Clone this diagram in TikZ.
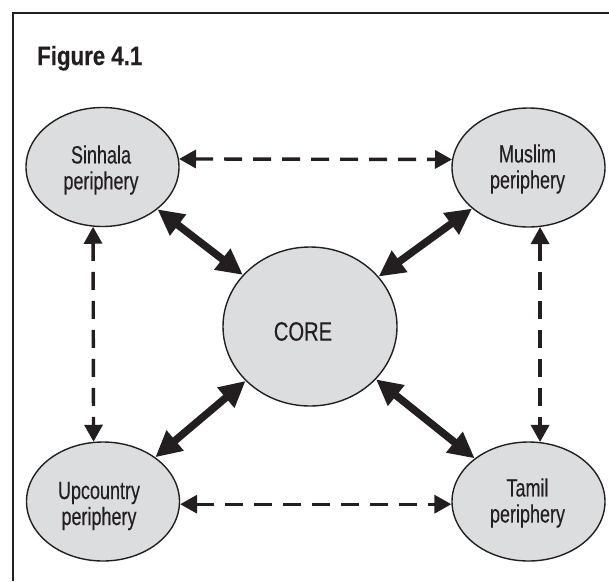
\documentclass[tikz,border=0pt]{standalone}
\usepackage{fontspec}
\setmainfont[FakeStretch=0.72,FakeBold=0.25]{Liberation Sans}
\newfontfamily\corefont[FakeStretch=0.76,FakeBold=0.25]{Liberation Sans}
\newfontfamily\figfont[FakeStretch=0.84,FakeBold=0.3]{Liberation Sans}
\usetikzlibrary{shapes.geometric,arrows.meta}
\definecolor{ellfill}{HTML}{DCDDDF}
\definecolor{ink}{HTML}{231F20}
\tikzset{
  peri/.style={ellipse,draw=ink,line width=1.4pt,fill=ellfill,inner sep=0pt,
    minimum width=153pt,minimum height=119pt},
  peritext/.style={align=center,text=ink,inner sep=0pt,
    font=\fontsize{25}{26}\selectfont},
  corebox/.style={ellipse,draw=ink,line width=1.4pt,fill=ellfill,inner sep=0pt,
    minimum width=174pt,minimum height=159pt},
  coretext/.style={text=ink,inner sep=0pt,
    font=\corefont\fontsize{26.5}{30}\selectfont},
  dasharrow/.style={draw=ink,line width=3.4pt,dash pattern=on 18pt off 11pt,
    {Triangle[length=17pt,width=18pt]}-{Triangle[length=17pt,width=18pt]}},
  thickarrow/.style={draw=ink,line width=7.5pt,
    {Triangle[length=26pt,width=25pt]}-{Triangle[length=26pt,width=25pt]}},
  frameline/.style={draw=ink,line width=2.2pt},
  figtitle/.style={anchor=base west,inner sep=0pt,text=ink,
    font=\figfont\bfseries\fontsize{26.5}{30}\selectfont}
}
\begin{document}
\begin{tikzpicture}[x=1pt,y=-1pt]
\useasboundingbox (0,0) rectangle (609,581);
\draw[frameline] (13,581) -- (13,13) -- (609,13);
\node[figtitle] (title) at (37,65) {Figure 4.1};
\node[peri] (sin) at (102.5,167) {};
\node[peri] (mus) at (528.5,167.5) {};
\node[peri] (upc) at (103,501.5) {};
\node[peri] (tam) at (528.5,501.5) {};
\node[corebox] (core) at (310,326.5) {};
\node[peritext] (sint) at (101,170) {Sinhala\\periphery};
\node[peritext] (must) at (527.5,169) {Muslim\\periphery};
\node[peritext] (upct) at (99,506) {Upcountry\\periphery};
\node[peritext] (tamt) at (527.5,503) {Tamil\\periphery};
\node[coretext] (coret) at (303,331.5) {CORE};
\draw[dasharrow] (sin.6) -- (mus.174);
\draw[dasharrow] (upc.-2) -- (tam.182);
\draw[dasharrow] (sin.261) -- (upc.99);
\draw[dasharrow] (mus.281) -- (tam.79);
\draw[thickarrow] (sin) -- (core);
\draw[thickarrow] (mus) -- (core);
\draw[thickarrow] (upc) -- (core);
\draw[thickarrow] (tam) -- (core);
\end{tikzpicture}
\end{document}
